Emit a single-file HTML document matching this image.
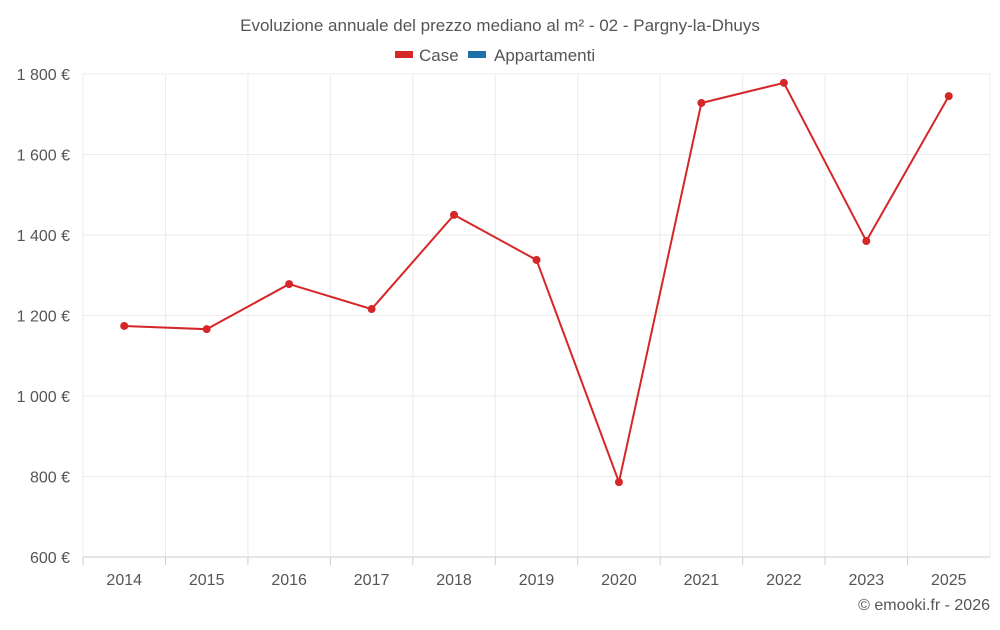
<!DOCTYPE html>
<html><head><meta charset="utf-8"><style>
body{margin:0;background:#fff;font-family:"Liberation Sans",sans-serif;}
svg text{font-family:"Liberation Sans",sans-serif;fill:#555;}
</style></head><body>
<svg id="chart" width="1000" height="625">
<text x="500" y="31" text-anchor="middle" font-size="17">Evoluzione annuale del prezzo mediano al m² - 02 - Pargny-la-Dhuys</text>
<g>
<rect x="395" y="51" width="18" height="7" fill="#d62728"></rect>
<text x="419" y="61" font-size="17">Case</text>
<rect x="468" y="51" width="18" height="7" fill="#1f6fa8"></rect>
<text x="494" y="61" font-size="17">Appartamenti</text>
</g>
<g id="grid"></g><g id="axes"></g><g id="series"></g>
<text x="990" y="610" text-anchor="end" font-size="16">© emooki.fr - 2026</text>
</svg>
<script>
const categories=["2014","2015","2016","2017","2018","2019","2020","2021","2022","2023","2025"];
const caseValues=[1174,1166,1278,1216,1450,1338,786,1728,1778,1385,1745];
const yTicks=[600,800,1000,1200,1400,1600,1800];
const yTickLabels=["600 €","800 €","1 000 €","1 200 €","1 400 €","1 600 €","1 800 €"];
const NS="http://www.w3.org/2000/svg";
const L=83,R=990,T=74,B=557,yMin=600,yMax=1800;
const band=(R-L)/categories.length;
const xS=i=>L+band*(i+0.5);
const yS=v=>B-(v-yMin)/(yMax-yMin)*(B-T);
function mk(tag,attrs,parent){const e=document.createElementNS(NS,tag);for(const k in attrs)e.setAttribute(k,attrs[k]);parent.appendChild(e);return e;}
const grid=document.getElementById('grid'),axes=document.getElementById('axes'),series=document.getElementById('series');
yTicks.forEach((t,i)=>{
 const ln=mk('line',{x1:L,x2:R,y1:yS(t),y2:yS(t),stroke:i==0?'#ccc':'#ebebeb','stroke-width':1},grid);
 
 
 const tx=mk('text',{x:70,y:yS(t)+6,'text-anchor':'end','font-size':16},axes);
 tx.textContent=yTickLabels[i];
 
 
});
for(let i=0;i<=categories.length;i++){
 const ln=mk('line',{x1:L+band*i,x2:L+band*i,y1:T,y2:B+(i>0&&i<categories.length?0:0),stroke:'#ebebeb','stroke-width':1},grid);
 
 
}
categories.forEach((c,i)=>{
 const tk=mk('line',{x1:L+band*i,x2:L+band*i,y1:B,y2:B+8,stroke:'#ccc'},axes);
 
 
 const tx=mk('text',{x:xS(i),y:585,'text-anchor':'middle','font-size':16},axes);
 tx.textContent=c;
 
 
});
const pts=caseValues.map((v,i)=>xS(i)+','+yS(v)).join(' ');
const pl=mk('polyline',{points:pts,fill:'none',stroke:'#d62728','stroke-width':2},series);


caseValues.forEach((v,i)=>{
 const c=mk('circle',{cx:xS(i),cy:yS(v),r:4,fill:'#d62728'},series);
 
 
});
</script>
</body></html>
